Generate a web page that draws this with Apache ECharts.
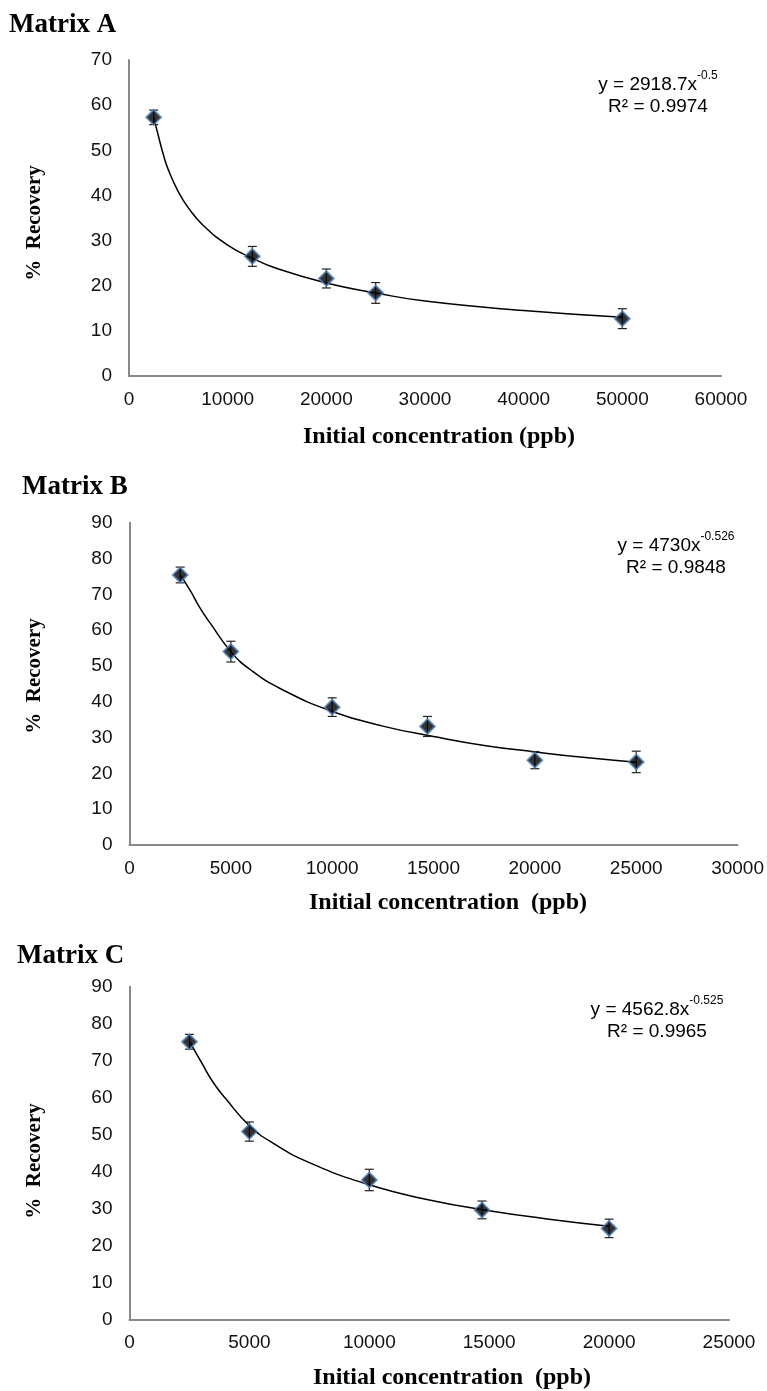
<!DOCTYPE html>
<html>
<head>
<meta charset="utf-8">
<script src="https://cdn.jsdelivr.net/npm/echarts@6/dist/echarts.min.js"></script>
<style>
  html, body { margin: 0; padding: 0; background: #fff; }
  #chart { width: 767px; height: 1391px; }
</style>
</head>
<body>
<div id="chart"></div>
<script>
// Matrix A
const aConc = [2500, 12500, 20000, 25000, 50000];
const aRecovery = [57.3, 26.5, 21.6, 18.4, 12.7];
const aError = [1.6, 2.2, 2.1, 2.3, 2.2];
const aTrendX = [2500, 3000, 3500, 4000, 5000, 6000, 7500, 10000, 12500, 15000, 20000, 25000, 30000, 40000, 50000];
const aTrendY = [57.3, 53.0, 48.9, 45.6, 40.8, 37.3, 33.4, 29.0, 26.1, 23.8, 20.6, 18.4, 16.6, 14.5, 13.0];
const aXTicks = [0, 10000, 20000, 30000, 40000, 50000, 60000];
const aYTicks = [0, 10, 20, 30, 40, 50, 60, 70];

// Matrix B
const bConc = [2500, 5000, 10000, 14700, 20000, 25000];
const bRecovery = [75.4, 54.0, 38.5, 33.1, 23.7, 23.2];
const bError = [2.2, 2.9, 2.6, 2.8, 2.4, 3.0];
const bTrendX = [2500, 3000, 3500, 4000, 5000, 6000, 7500, 10000, 12500, 15000, 17500, 20000, 22500, 25000];
const bTrendY = [75.5, 71.0, 66.0, 61.8, 54.0, 48.8, 43.5, 37.3, 33.2, 30.3, 27.8, 26.0, 24.4, 23.1];
const bXTicks = [0, 5000, 10000, 15000, 20000, 25000, 30000];
const bYTicks = [0, 10, 20, 30, 40, 50, 60, 70, 80, 90];

// Matrix C
const cConc = [2500, 5000, 10000, 14700, 20000];
const cRecovery = [75.1, 50.8, 37.7, 29.6, 24.6];
const cError = [2.0, 2.6, 2.9, 2.4, 2.5];
const cTrendX = [2500, 3000, 3500, 4000, 5000, 6000, 7500, 10000, 12500, 15000, 17500, 20000];
const cTrendY = [75.3, 69.5, 64.0, 59.8, 52.4, 47.6, 42.4, 36.4, 32.3, 29.4, 27.1, 25.2];
const cXTicks = [0, 5000, 10000, 15000, 20000, 25000];
const cYTicks = [0, 10, 20, 30, 40, 50, 60, 70, 80, 90];

const panels = [
  { title: 'Matrix A', conc: aConc, rec: aRecovery, err: aError, tx: aTrendX, ty: aTrendY, xt: aXTicks, yt: aYTicks,
    eq: 'y = 2918.7x', pow: '-0.5', r2: 'R² = 0.9974', xName: 'Initial concentration (ppb)' },
  { title: 'Matrix B', conc: bConc, rec: bRecovery, err: bError, tx: bTrendX, ty: bTrendY, xt: bXTicks, yt: bYTicks,
    eq: 'y = 4730x', pow: '-0.526', r2: 'R² = 0.9848', xName: 'Initial concentration  (ppb)' },
  { title: 'Matrix C', conc: cConc, rec: cRecovery, err: cError, tx: cTrendX, ty: cTrendY, xt: cXTicks, yt: cYTicks,
    eq: 'y = 4562.8x', pow: '-0.525', r2: 'R² = 0.9965', xName: 'Initial concentration  (ppb)' }
];

// layout of each panel (pixels)
const layout = [
  { left: 129, top: 60, width: 592, height: 316, titleX: 9, titleY: 25, eqX: 658, eqY: 82, yNameY: 223, xNameX: 439, xNameY: 437 },
  { left: 129.5, top: 522.7, width: 609.5, height: 322.3, titleX: 22, titleY: 487, eqX: 676, eqY: 543, yNameY: 676, xNameX: 448, xNameY: 903 },
  { left: 129.5, top: 986.7, width: 599.5, height: 332.6, titleX: 17, titleY: 956, eqX: 657, eqY: 1007, yNameY: 1161, xNameX: 452, xNameY: 1378 }
];

const axisLineStyle = { color: '#898989', width: 2 };
const tickFont = { color: '#111', fontSize: 19, fontFamily: 'Liberation Sans, Arial, sans-serif' };

const grid = [], xAxis = [], yAxis = [], series = [], graphic = [];

panels.forEach(function (p, i) {
  const L = layout[i];
  grid.push({ left: L.left, top: L.top, width: L.width, height: L.height });
  xAxis.push({
    type: 'value', gridIndex: i,
    min: p.xt[0], max: p.xt[p.xt.length - 1], interval: p.xt[1] - p.xt[0],
    axisLine: { show: true, onZero: false, lineStyle: axisLineStyle },
    axisTick: { show: false }, splitLine: { show: false },
    axisLabel: Object.assign({ margin: 14, formatter: function (v) { return String(v); } }, tickFont)
  });
  yAxis.push({
    type: 'value', gridIndex: i,
    min: p.yt[0], max: p.yt[p.yt.length - 1], interval: p.yt[1] - p.yt[0],
    axisLine: { show: true, lineStyle: axisLineStyle },
    axisTick: { show: false }, splitLine: { show: false },
    axisLabel: Object.assign({ margin: 17 }, tickFont)
  });

  // power trendline
  series.push({
    type: 'line', xAxisIndex: i, yAxisIndex: i,
    data: p.tx.map(function (x, k) { return [x, p.ty[k]]; }),
    smooth: 0.5, showSymbol: false, symbol: 'none',
    lineStyle: { color: '#000', width: 1.5 }, silent: true, z: 2
  });

  // error bars
  series.push({
    type: 'custom', xAxisIndex: i, yAxisIndex: i,
    data: p.conc.map(function (x, k) { return [x, p.rec[k] - p.err[k], p.rec[k] + p.err[k]]; }),
    renderItem: function (params, api) {
      const lo = api.coord([api.value(0), api.value(1)]);
      const hi = api.coord([api.value(0), api.value(2)]);
      const w = 4.5;
      const style = { stroke: '#222', lineWidth: 1.2 };
      return {
        type: 'group',
        children: [
          { type: 'line', shape: { x1: hi[0], y1: hi[1], x2: lo[0], y2: lo[1] }, style: style },
          { type: 'line', shape: { x1: hi[0] - w, y1: hi[1], x2: hi[0] + w, y2: hi[1] }, style: style },
          { type: 'line', shape: { x1: lo[0] - w, y1: lo[1], x2: lo[0] + w, y2: lo[1] }, style: style }
        ]
      };
    },
    z: 3
  });

  // measured points
  series.push({
    type: 'scatter', xAxisIndex: i, yAxisIndex: i,
    data: p.conc.map(function (x, k) { return [x, p.rec[k]]; }),
    symbol: 'diamond', symbolSize: 15,
    itemStyle: { color: '#000', borderColor: '#4f81bd', borderWidth: 1.8 },
    z: 4
  });

  graphic.push({
    type: 'text', x: L.titleX, y: L.titleY,
    style: { text: p.title, font: 'bold 27px "Liberation Serif", "Times New Roman", serif', fill: '#000', verticalAlign: 'middle' }
  });
  graphic.push({
    type: 'text', x: L.eqX, y: L.eqY,
    style: {
      text: '{b|' + p.eq + '}{s|' + p.pow + '}',
      align: 'center', verticalAlign: 'middle',
      rich: {
        b: { fontSize: 19, fontFamily: 'Liberation Sans, Arial, sans-serif', fill: '#000', lineHeight: 24, verticalAlign: 'bottom' },
        s: { fontSize: 12, fontFamily: 'Liberation Sans, Arial, sans-serif', fill: '#000', lineHeight: 24, verticalAlign: 'top' }
      }
    }
  });
  graphic.push({
    type: 'text', x: L.eqX, y: L.eqY + 25,
    style: { text: p.r2, font: '19px "Liberation Sans", Arial, sans-serif', fill: '#000', align: 'center', verticalAlign: 'middle' }
  });
  graphic.push({
    type: 'text', x: 35, y: L.yNameY, rotation: Math.PI / 2,
    style: { text: '%  Recovery', font: 'bold 21px "Liberation Serif", "Times New Roman", serif', fill: '#000', align: 'center', verticalAlign: 'middle' }
  });
  graphic.push({
    type: 'text', x: L.xNameX, y: L.xNameY,
    style: { text: p.xName, font: 'bold 24px "Liberation Serif", "Times New Roman", serif', fill: '#000', align: 'center', verticalAlign: 'middle' }
  });
});

const chart = echarts.init(document.getElementById('chart'), null, { renderer: 'canvas' });
chart.setOption({
  backgroundColor: '#fff',
  animation: false,
  grid: grid,
  xAxis: xAxis,
  yAxis: yAxis,
  series: series,
  graphic: graphic
});
</script>
</body>
</html>
